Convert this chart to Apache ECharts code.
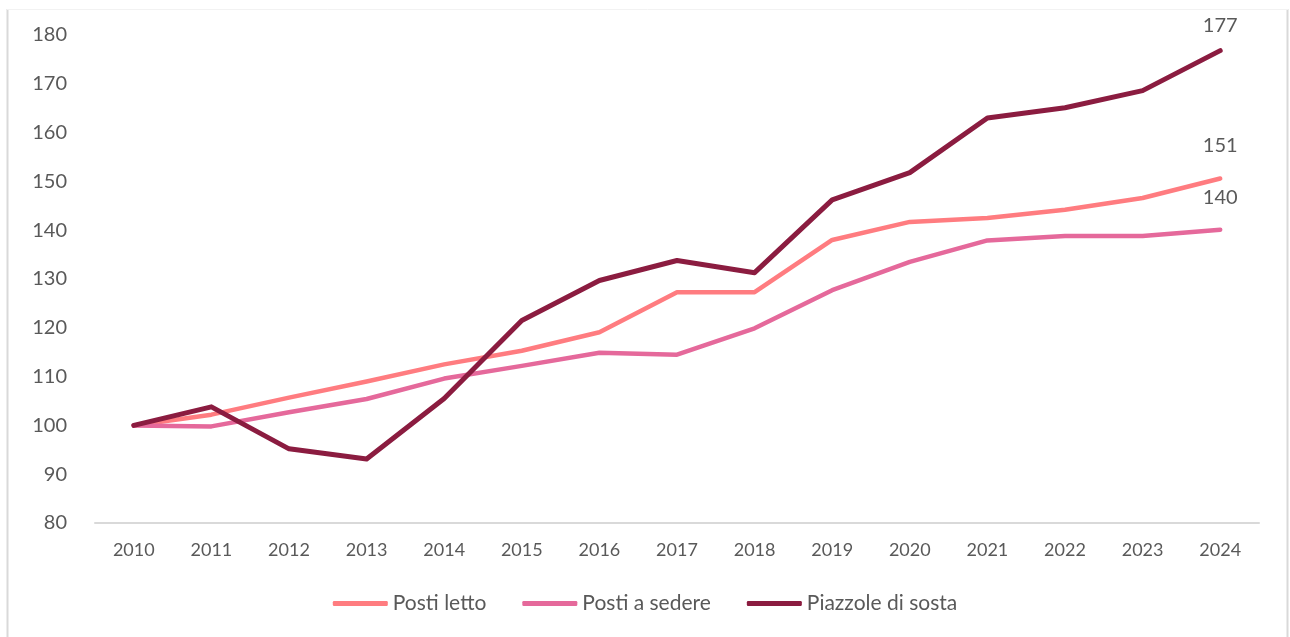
<!DOCTYPE html>
<html>
<head>
<meta charset="utf-8">
<script src="https://cdn.jsdelivr.net/npm/echarts@6/dist/echarts.min.js"></script>
<style>
html,body{margin:0;padding:0;background:#fff;}
#chart{width:1290px;height:637px;}
</style>
</head>
<body>
<div id="chart"></div>
<script>
const years = ['2010','2011','2012','2013','2014','2015','2016','2017','2018','2019','2020','2021','2022','2023','2024'];
const postiLetto = [100, 102.2, 105.7, 109.0, 112.5, 115.3, 119.1, 127.3, 127.3, 138.0, 141.7, 142.5, 144.2, 146.6, 150.6];
const postiSedere = [100, 99.8, 102.7, 105.4, 109.6, 112.2, 114.9, 114.5, 119.9, 127.7, 133.5, 137.9, 138.8, 138.8, 140.1];
const piazzole = [100, 103.8, 95.2, 93.1, 105.5, 121.5, 129.7, 133.8, 131.3, 146.2, 151.8, 163.0, 165.1, 168.6, 176.8];
const seriesNames = ['Posti letto', 'Posti a sedere', 'Piazzole di sosta'];
const colors = ['#FF7C80', '#E5699B', '#8B1C40'];

const FONT = 'Lato';
const TXT = '#595959';

function endLabel(dy) {
  return {
    show: true,
    formatter: p => String(Math.round(Array.isArray(p.value) ? p.value[1] : p.value)),
    color: TXT,
    fontSize: 20,
    fontFamily: FONT,
    align: 'center',
    verticalAlign: 'middle',
    distance: 0,
    offset: [0, -dy]
  };
}

function lineSeries(i, data, width, dy, z) {
  return {
    name: seriesNames[i],
    type: 'line',
    data: data,
    color: colors[i],
    symbol: 'none',
    lineStyle: { width: width, color: colors[i], cap: 'round', join: 'round' },
    endLabel: endLabel(dy),
    z: z
  };
}

const chart = echarts.init(document.getElementById('chart'));
chart.setOption({
  animation: false,
  backgroundColor: '#fff',
  textStyle: { fontFamily: FONT },
  grid: { left: 95, right: 31, top: 35, bottom: 114, containLabel: false },
  graphic: [
    { type: 'line', shape: { x1: 7.5, y1: 9, x2: 7.5, y2: 637 }, style: { stroke: '#D9D9D9', lineWidth: 2 } },
    { type: 'line', shape: { x1: 1287.5, y1: 9, x2: 1287.5, y2: 637 }, style: { stroke: '#D9D9D9', lineWidth: 2 } },
    { type: 'line', shape: { x1: 7, y1: 9.5, x2: 1288, y2: 9.5 }, style: { stroke: '#F2F2F2', lineWidth: 1 } }
  ],
  legend: {
    bottom: 18,
    left: 'center',
    itemGap: 36,
    itemWidth: 55,
    itemHeight: 5,
    icon: 'roundRect',
    textStyle: { color: TXT, fontSize: 21, fontFamily: FONT },
    data: seriesNames
  },
  xAxis: {
    type: 'category',
    data: years,
    boundaryGap: true,
    axisLine: { lineStyle: { color: '#D9D9D9', width: 2 } },
    axisTick: { show: false },
    axisLabel: { color: TXT, fontSize: 18, fontFamily: FONT, margin: 18 }
  },
  yAxis: {
    type: 'value',
    min: 80,
    max: 180,
    interval: 10,
    axisLine: { show: false },
    axisTick: { show: false },
    splitLine: { show: false },
    axisLabel: { color: TXT, fontSize: 20, fontFamily: FONT, margin: 28 }
  },
  series: [
    lineSeries(0, postiLetto, 4.5, 33, 2),
    lineSeries(1, postiSedere, 4.5, 32, 2),
    lineSeries(2, piazzole, 5, 25, 3)
  ]
});
</script>
</body>
</html>
